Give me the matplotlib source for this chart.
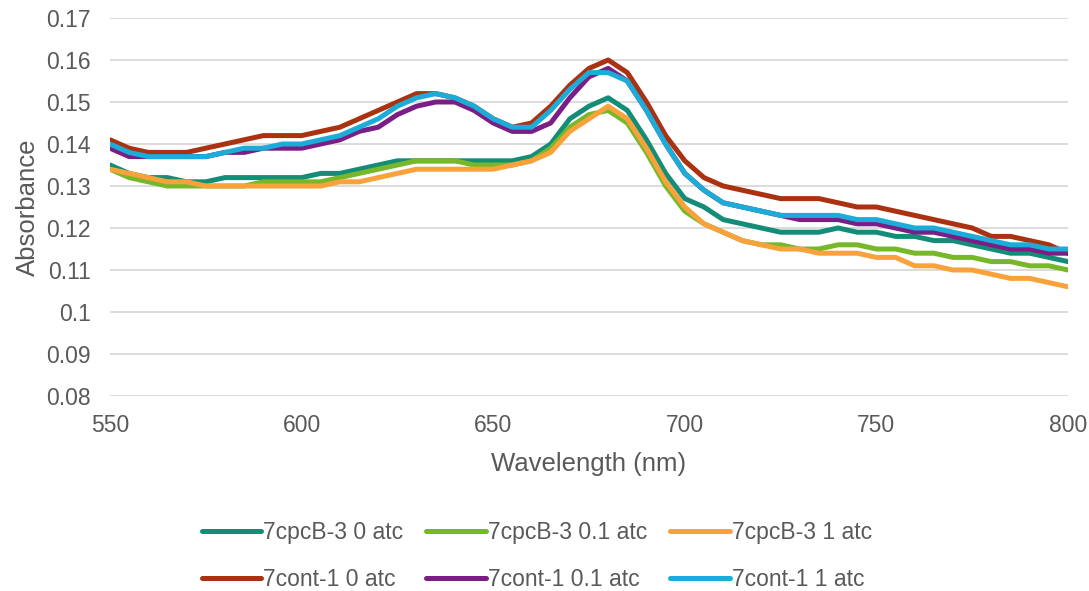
import matplotlib
matplotlib.use("Agg")
import matplotlib.pyplot as plt

wavelength = list(range(550, 801, 5))

cpcb_0 = [.135, .133, .132, .132, .131, .131, .132, .132, .132, .132,
          .132, .133, .133, .134, .135, .136, .136, .136, .136, .136,
          .136, .136, .137, .140, .146, .149, .151, .148, .141, .133,
          .127, .125, .122, .121, .120, .119, .119, .119, .120, .119,
          .119, .118, .118, .117, .117, .116, .115, .114, .114, .113, .112]
cpcb_01 = [.134, .132, .131, .130, .130, .130, .130, .130, .131, .131,
           .131, .131, .132, .133, .134, .135, .136, .136, .136, .135,
           .135, .135, .136, .139, .144, .147, .148, .145, .138, .130,
           .124, .121, .119, .117, .116, .116, .115, .115, .116, .116,
           .115, .115, .114, .114, .113, .113, .112, .112, .111, .111, .110]
cpcb_1 = [.134, .133, .132, .131, .131, .130, .130, .130, .130, .130,
          .130, .130, .131, .131, .132, .133, .134, .134, .134, .134,
          .134, .135, .136, .138, .143, .146, .149, .146, .139, .131,
          .125, .121, .119, .117, .116, .115, .115, .114, .114, .114,
          .113, .113, .111, .111, .110, .110, .109, .108, .108, .107, .106]
cont_0 = [.141, .139, .138, .138, .138, .139, .140, .141, .142, .142,
          .142, .143, .144, .146, .148, .150, .152, .152, .151, .149,
          .146, .144, .145, .149, .154, .158, .160, .157, .150, .142,
          .136, .132, .130, .129, .128, .127, .127, .127, .126, .125,
          .125, .124, .123, .122, .121, .120, .118, .118, .117, .116, .114]
cont_01 = [.139, .137, .137, .137, .137, .137, .138, .138, .139, .139,
           .139, .140, .141, .143, .144, .147, .149, .150, .150, .148,
           .145, .143, .143, .145, .151, .156, .158, .155, .148, .140,
           .133, .129, .126, .125, .124, .123, .122, .122, .122, .121,
           .121, .120, .119, .119, .118, .117, .116, .115, .115, .114, .114]
cont_1 = [.140, .138, .137, .137, .137, .137, .138, .139, .139, .140,
          .140, .141, .142, .144, .146, .149, .151, .152, .151, .149,
          .146, .144, .144, .148, .153, .157, .157, .155, .148, .140,
          .133, .129, .126, .125, .124, .123, .123, .123, .123, .122,
          .122, .121, .120, .120, .119, .118, .117, .116, .116, .115, .115]

labels = ["7cpcB-3 0 atc", "7cpcB-3 0.1 atc", "7cpcB-3 1 atc",
          "7cont-1 0 atc", "7cont-1 0.1 atc", "7cont-1 1 atc"]
colors = ["#138C78", "#76B82A", "#F9A23C", "#AA3210", "#7A1E86", "#1BADD8"]
series = [cpcb_0, cpcb_01, cpcb_1, cont_0, cont_01, cont_1]

x_ticks = [550, 600, 650, 700, 750, 800]
y_ticks = [0.08, 0.09, 0.10, 0.11, 0.12, 0.13, 0.14, 0.15, 0.16, 0.17]
y_tick_labels = ["0.08", "0.09", "0.1", "0.11", "0.12", "0.13", "0.14", "0.15", "0.16", "0.17"]

plt.rcParams['font.family'] = ['Liberation Sans', 'DejaVu Sans']
txt = "#595959"

fig = plt.figure(figsize=(10.89, 5.91), dpi=100)
ax = fig.add_axes([110/1089, 1-396/591, (1068-110)/1089, (396-18)/591])

lines = []
for i in range(len(series)):
    ln, = ax.plot(wavelength, series[i], color=colors[i], lw=3.6, label=labels[i],
                  solid_joinstyle='round', solid_capstyle='round')
    lines.append(ln)

ax.set_xlim(550, 800)
ax.set_ylim(0.08, 0.17)
ax.set_xticks(x_ticks)
ax.set_xticklabels([str(v) for v in x_ticks])
ax.set_yticks(y_ticks)
ax.set_yticklabels(y_tick_labels)
ax.tick_params(axis='both', length=0, labelsize=16.5, colors=txt)
ax.tick_params(axis='x', pad=13)
ax.tick_params(axis='y', pad=14)
ax.grid(axis='y', color='#D9D9D9', lw=1.3)
ax.set_axisbelow(True)
for s in ax.spines.values():
    s.set_visible(False)

ax.set_xlabel("Wavelength (nm)", fontsize=18.5, color=txt, labelpad=11)
ax.set_ylabel("Absorbance", fontsize=18.5, color=txt, labelpad=4)

# row-wise ordering for a 3-column, 2-row legend
idx = [0, 3, 1, 4, 2, 5]
leg = fig.legend(handles=[lines[i] for i in idx], labels=[labels[i] for i in idx],
                 ncol=3, loc='center', bbox_to_anchor=(537/1089, 1-556/591),
                 frameon=False, fontsize=16.5, handlelength=2.6, handletextpad=0.1,
                 columnspacing=1.0, labelspacing=1.05)
for t in leg.get_texts():
    t.set_color(txt)

fig.savefig("out.png", dpi=100)
